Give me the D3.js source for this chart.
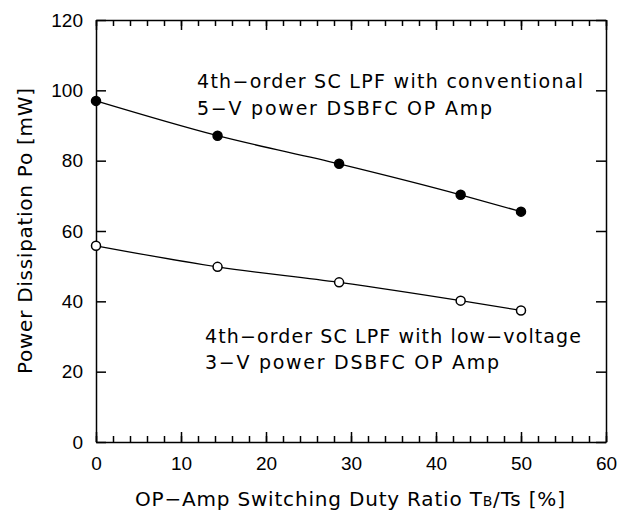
<!DOCTYPE html>
<html>
<head>
<meta charset="utf-8">
<script src="https://cdn.jsdelivr.net/npm/d3@7"></script>
<style>
  body { margin: 0; background: #fff; }
  svg { display: block; font-family: "DejaVu Sans", sans-serif; }
  .axis path, .axis line { stroke: #000; stroke-width: 1.5; }
  .axis text { font-size: 19px; fill: #000; font-family: "Liberation Sans", Arial, sans-serif; }
</style>
</head>
<body>
<svg id="chart"></svg>
<script>
// duty ratio TB/Ts [%]
const dutyRatio = [0, 14.3, 28.6, 42.9, 50];
// power dissipation [mW]
const conventional5V = [97.0, 87.1, 79.1, 70.3, 65.5];
const lowVoltage3V = [55.8, 49.8, 45.4, 40.2, 37.4];

const xTicks = [0, 10, 20, 30, 40, 50, 60];
const xMinorTicks = d3.range(0, 61, 2);
const yTicks = [0, 20, 40, 60, 80, 100, 120];

const width = 617, height = 516;
const margin = { top: 20, right: 11, bottom: 74, left: 96 };

const svg = d3.select('#chart')
    .attr('width', width)
    .attr('height', height);

const innerWidth = width - margin.left - margin.right;
const innerHeight = height - margin.top - margin.bottom;

const xScale = d3.scaleLinear().domain([0, 60]).range([0, innerWidth]);
const yScale = d3.scaleLinear().domain([0, 120]).range([innerHeight, 0]);

const g = svg.append('g')
    .attr('transform', `translate(${margin.left},${margin.top})`);

// minor ticks, bottom and top
g.append('g').attr('class', 'axis')
    .attr('transform', `translate(0,${innerHeight})`)
    .call(d3.axisBottom(xScale).tickValues(xMinorTicks).tickSize(-6).tickFormat(''))
    .call(a => a.select('.domain').remove())
    .call(a => a.selectAll('text').remove());
g.append('g').attr('class', 'axis')
    .call(d3.axisTop(xScale).tickValues(xMinorTicks).tickSize(-6).tickFormat(''))
    .call(a => a.select('.domain').remove())
    .call(a => a.selectAll('text').remove());

// major ticks, ticks point inward
g.append('g').attr('class', 'axis')
    .attr('transform', `translate(0,${innerHeight})`)
    .call(d3.axisBottom(xScale).tickValues(xTicks).tickSizeInner(-10).tickSizeOuter(0).tickPadding(15));
g.append('g').attr('class', 'axis')
    .call(d3.axisTop(xScale).tickValues(xTicks).tickSizeInner(-10).tickSizeOuter(0).tickFormat(''))
    .call(a => a.selectAll('text').remove());
g.append('g').attr('class', 'axis')
    .call(d3.axisLeft(yScale).tickValues(yTicks).tickSizeInner(-10).tickSizeOuter(0).tickPadding(13));
g.append('g').attr('class', 'axis')
    .attr('transform', `translate(${innerWidth},0)`)
    .call(d3.axisRight(yScale).tickValues(yTicks).tickSizeInner(-10).tickSizeOuter(0).tickFormat(''))
    .call(a => a.selectAll('text').remove());

const line = d3.line()
    .x(d => xScale(d[0]))
    .y(d => yScale(d[1]))
    .curve(d3.curveMonotoneX);

const series = [
    { values: conventional5V, fill: '#000' },
    { values: lowVoltage3V, fill: '#fff' }
];

series.forEach(s => {
    const pts = dutyRatio.map((x, i) => [x, s.values[i]]);
    g.append('path')
        .datum(pts)
        .attr('fill', 'none')
        .attr('stroke', '#000')
        .attr('stroke-width', 1.3)
        .attr('d', line);
    g.selectAll(null).data(pts)
        .enter().append('circle')
        .attr('cx', d => xScale(d[0]))
        .attr('cy', d => yScale(d[1]))
        .attr('r', 4.5)
        .attr('fill', s.fill)
        .attr('stroke', '#000')
        .attr('stroke-width', 1.5);
});

// annotations, stretched to the widths
const notes = [
    { x: 197, y: 88, len: 386, text: '4th−order SC LPF with conventional' },
    { x: 197, y: 115, len: 295, text: '5−V power DSBFC OP Amp' },
    { x: 205, y: 343, len: 376, text: '4th−order SC LPF with low−voltage' },
    { x: 205, y: 369, len: 294, text: '3−V power DSBFC OP Amp' }
];
svg.selectAll('.note').data(notes)
    .enter().append('text')
    .attr('class', 'note')
    .attr('x', d => d.x)
    .attr('y', d => d.y)
    .attr('font-size', 19)
    .attr('textLength', d => d.len)
    .attr('lengthAdjust', 'spacing')
    .text(d => d.text);

// axis titles
const xTitle = svg.append('text')
    .attr('x', 135)
    .attr('y', 506)
    .attr('font-size', 20)
    .attr('textLength', 430)
    .attr('lengthAdjust', 'spacing');
xTitle.append('tspan').text('OP−Amp Switching Duty Ratio T');
xTitle.append('tspan').attr('font-size', 14).text('B');
xTitle.append('tspan').text('/Ts [%]');

svg.append('text')
    .attr('transform', 'translate(32,231) rotate(-90)')
    .attr('text-anchor', 'middle')
    .attr('font-size', 20)
    .attr('textLength', 286)
    .attr('lengthAdjust', 'spacing')
    .text('Power Dissipation Po [mW]');
</script>
</body>
</html>
